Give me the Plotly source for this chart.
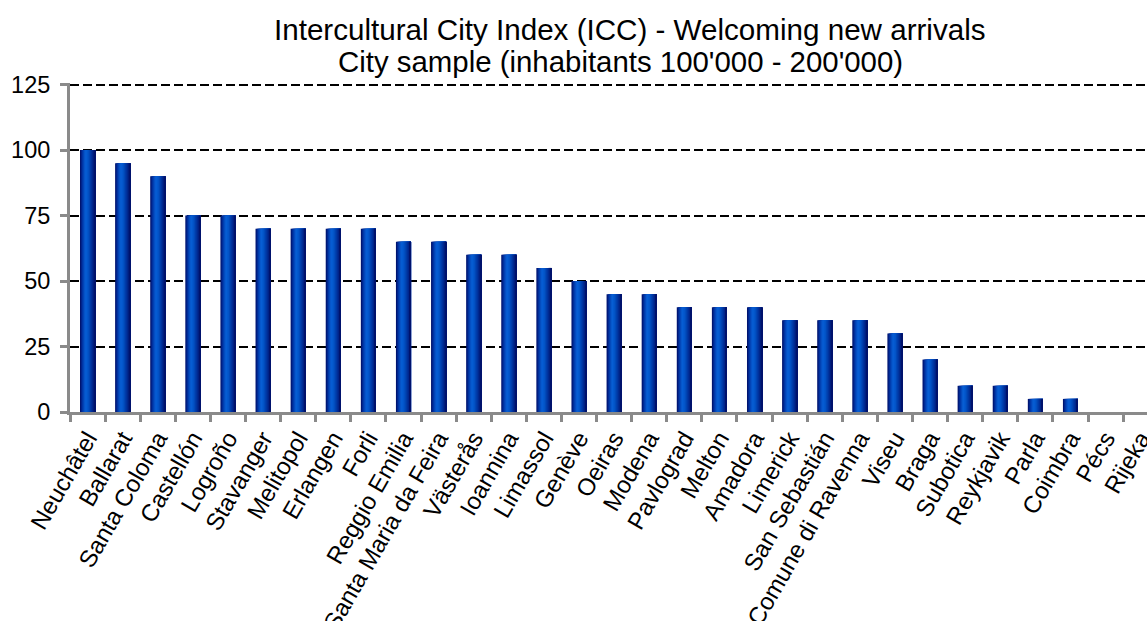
import plotly.graph_objects as go

# Intercultural City Index – "Welcoming new arrivals" scores
cities = [
    "Neuchâtel", "Ballarat", "Santa Coloma", "Castellón", "Logroño",
    "Stavanger", "Melitopol", "Erlangen", "Forli", "Reggio Emilia",
    "Santa Maria da Feira", "Västerås", "Ioannina", "Limassol", "Genève",
    "Oeiras", "Modena", "Pavlograd", "Melton", "Amadora",
    "Limerick", "San Sebastián", "Comune di Ravenna", "Viseu", "Braga",
    "Subotica", "Reykjavik", "Parla", "Coimbra", "Pécs", "Rijeka",
]
scores = [
    100, 95, 90, 75, 75,
    70, 70, 70, 70, 65,
    65, 60, 60, 55, 50,
    45, 45, 40, 40, 40,
    35, 35, 35, 30, 20,
    10, 10, 5, 5, 0, 0,
]
y_ticks = [0, 25, 50, 75, 100, 125]

title_line1 = "Intercultural City Index (ICC) - Welcoming new arrivals"
title_line2 = "City sample (inhabitants 100'000 - 200'000)"

FONT = "Liberation Sans, Arial, sans-serif"
AXIS_GREY = "#8a8a8a"

# Cylinder-like shading across each bar: dark edges, bright left-of-centre
BAR_WIDTH = 0.43
N_STRIPS = 14
shade_stops = [
    (0.00, (0, 10, 96)),
    (0.15, (0, 50, 162)),
    (0.36, (8, 96, 214)),
    (0.52, (3, 86, 202)),
    (0.78, (0, 46, 152)),
    (1.00, (0, 12, 100)),
]


def shade(t):
    for (t0, c0), (t1, c1) in zip(shade_stops[:-1], shade_stops[1:]):
        if t0 <= t <= t1:
            f = (t - t0) / (t1 - t0)
            r, g, b = (round(a + (bb - a) * f) for a, bb in zip(c0, c1))
            return f"rgb({r},{g},{b})"
    return "rgb(%d,%d,%d)" % shade_stops[-1][1]


fig = go.Figure()
step = BAR_WIDTH / N_STRIPS
for i in range(N_STRIPS):
    # each strip runs to the bar's right edge so neighbouring strips never leave seams
    fig.add_trace(go.Bar(
        x=cities,
        y=scores,
        offset=-BAR_WIDTH / 2 + i * step,
        width=BAR_WIDTH - i * step,
        marker=dict(color=shade((i + 0.5) / N_STRIPS), line=dict(width=0)),
        hoverinfo="skip",
        showlegend=False,
    ))

fig.update_layout(
    width=1147,
    height=621,
    margin=dict(l=70, r=0, t=83, b=209, pad=0),
    paper_bgcolor="white",
    plot_bgcolor="white",
    barmode="overlay",
    font=dict(family=FONT, color="black", size=23),
    annotations=[
        dict(text=title_line1, xref="paper", yref="paper", x=0.520, y=1.162,
             xanchor="center", yanchor="middle", showarrow=False,
             font=dict(family=FONT, size=29.6, color="black")),
        dict(text=title_line2, xref="paper", yref="paper", x=0.5116, y=1.066,
             xanchor="center", yanchor="middle", showarrow=False,
             font=dict(family=FONT, size=29.4, color="black")),
    ],
)

fig.update_xaxes(
    type="category",
    range=[-0.5, 30.18],
    automargin=False,
    tickangle=-60,
    tickson="boundaries",
    ticks="outside",
    ticklen=7,
    tickwidth=3,
    tickcolor=AXIS_GREY,
    showline=True,
    linecolor=AXIS_GREY,
    linewidth=3,
    showgrid=False,
    zeroline=False,
    tickfont=dict(family=FONT, size=24, color="black"),
)

fig.update_yaxes(
    # a hair of headroom keeps the 125 gridline inside the plot area
    range=[0, 125.6],
    automargin=False,
    tickmode="array",
    tickvals=y_ticks,
    ticktext=[str(v) for v in y_ticks],
    ticks="outside",
    ticklen=7,
    tickwidth=3,
    tickcolor=AXIS_GREY,
    showline=True,
    linecolor=AXIS_GREY,
    linewidth=3,
    showgrid=True,
    gridcolor="black",
    gridwidth=2,
    griddash="9px,4px",
    zeroline=False,
    ticklabelstandoff=5,
    tickfont=dict(family=FONT, size=23.5, color="black"),
)

fig.write_html("out.html")
